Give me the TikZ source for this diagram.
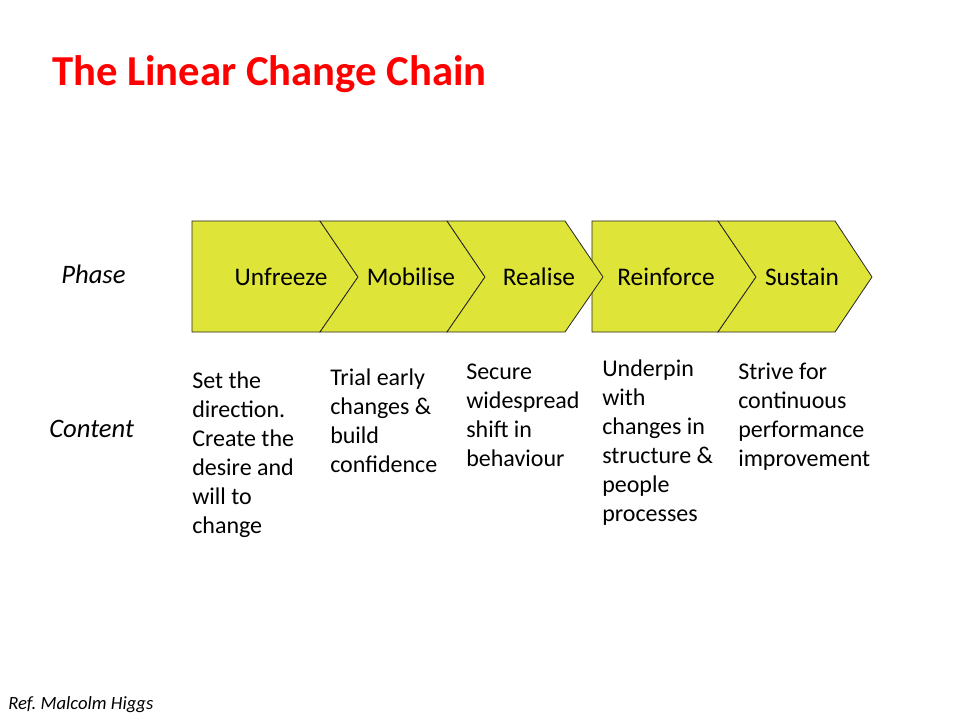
\documentclass[tikz,border=0pt]{standalone}
\usepackage{fontspec}
\setmainfont{Carlito}
\definecolor{chev}{RGB}{223,229,56}
\definecolor{titlered}{RGB}{255,0,0}
\tikzset{
  phase/.style={anchor=base,inner sep=0pt,font=\fontsize{19}{23}\selectfont},
  content/.style={anchor=base west,inner sep=0pt,align=left,font=\fontsize{18}{21.75}\selectfont},
  rowlabel/.style={anchor=base west,inner sep=0pt,font=\fontsize{20}{24}\selectfont\itshape},
  chevshape/.style={fill=chev,draw=black!85,line width=0.6pt,line join=miter}
}
\begin{document}
\begin{tikzpicture}[x=0.75pt,y=-0.75pt]
\useasboundingbox (0,0) rectangle (960,720);

%%% Title
\node[anchor=base west,inner sep=0pt,text=titlered,font=\fontsize{32}{38}\selectfont\bfseries] (title) at (52,86) {The Linear Change Chain};

%%% Second group of chevrons (drawn first, the third chevron lies over it)
\draw[chevshape] (592,221) -- (718,221) -- (756,277) -- (718,332) -- (592,332) -- cycle;
\draw[chevshape] (718,221) -- (835,221) -- (872,277) -- (835,332) -- (718,332) -- (756,277) -- cycle;

%%% First group of chevrons
\draw[chevshape] (192,221) -- (320,221) -- (358,277) -- (320,332) -- (192,332) -- cycle;
\draw[chevshape] (320,221) -- (447,221) -- (485,277) -- (447,332) -- (320,332) -- (358,277) -- cycle;
\draw[chevshape] (447,221) -- (565,221) -- (603,277) -- (565,332) -- (447,332) -- (485,277) -- cycle;

%%% Phase names
\node[phase] (unfreeze) at (281,286) {Unfreeze};
\node[phase] (mobilise) at (411,286) {Mobilise};
\node[phase] (realise) at (539,286) {Realise};
\node[phase] (reinforce) at (666,286) {Reinforce};
\node[phase] (sustain) at (802,286) {Sustain};

%%% Row labels
\node[rowlabel] (phaselabel) at (61,284) {Phase};
\node[rowlabel] (contentlabel) at (49,437) {Content};

%%% Content of each phase (placed by the baseline of the last line)
\node[content] (cunfreeze) at (192,533) {Set the\\direction.\\Create the\\desire and\\will to\\change};
\node[content] (cmobilise) at (330,472) {Trial early\\changes \&\\build\\confidence};
\node[content] (crealise) at (466,466) {Secure\\widespread\\shift in\\behaviour};
\node[content] (creinforce) at (602,521) {Underpin\\with\\changes in\\structure \&\\people\\processes};
\node[content] (csustain) at (738,466) {Strive for\\continuous\\performance\\improvement};

%%% Reference
\node[anchor=base west,inner sep=0pt,font=\fontsize{14}{16}\selectfont\itshape] (ref) at (8,709) {Ref.\ Malcolm Higgs};
\end{tikzpicture}
\end{document}
